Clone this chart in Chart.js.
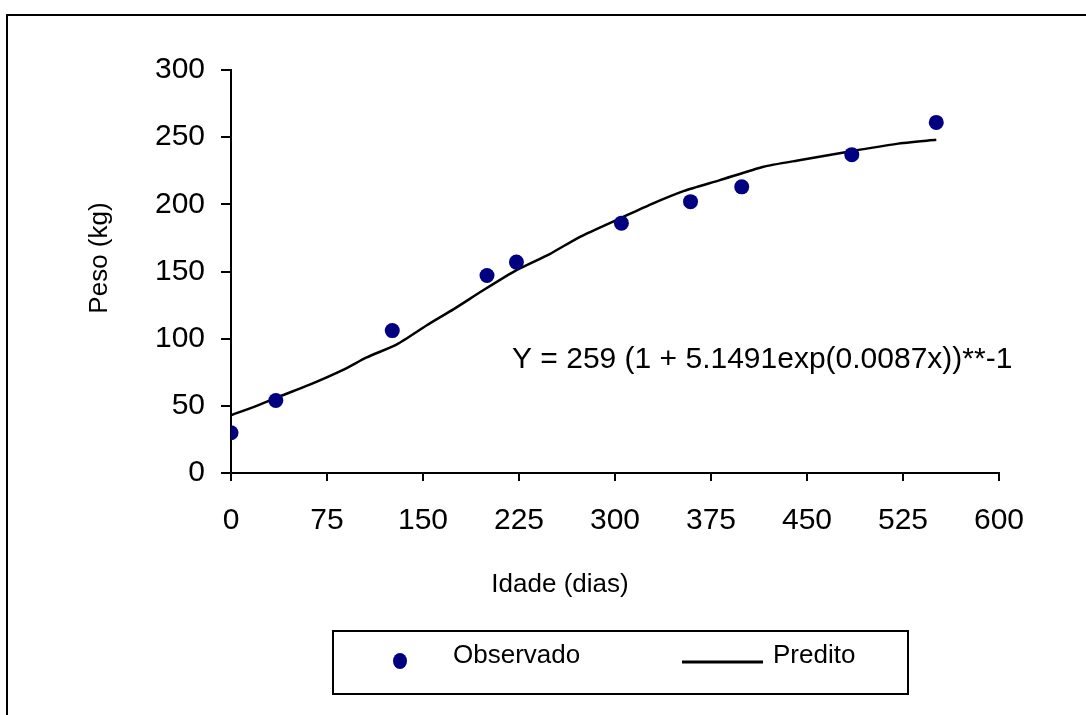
<!DOCTYPE html>
<html>
<head>
<meta charset="utf-8">
<title>Peso x Idade</title>
<script src="https://cdn.jsdelivr.net/npm/chart.js@4/dist/chart.umd.min.js"></script>
<style>
  html, body { margin: 0; padding: 0; background: #ffffff; }
  #wrap { position: relative; width: 1086px; height: 715px; }
</style>
</head>
<body>
<div id="wrap"><canvas id="pesoChart" width="1086" height="715"></canvas></div>
<script>
// Observed weights (kg) by age (days)
const obsAge = [0, 35, 126, 200, 223, 305, 359, 399, 485, 551];
const obsWeight = [30, 54, 106, 147, 157, 186, 202, 213, 237, 261];

// Predicted curve
const predAge = [0, 20, 38, 62, 88, 106, 130, 153, 174, 197, 223, 249, 273, 305, 328, 354, 382, 416, 445, 481, 520, 551];
const predWeight = [43, 50, 57, 66, 77, 86, 96, 110, 122, 136, 151, 163, 176, 190, 200, 210, 218, 228, 233, 239, 245, 248];

// Axis tick labels
const xTicks = [0, 75, 150, 225, 300, 375, 450, 525, 600];
const yTicks = [0, 50, 100, 150, 200, 250, 300];

const FONT = "'Liberation Sans', Arial, Helvetica, sans-serif";
const NAVY = '#000080';

// Extra text + frames drawn over the chart (titles, equation, boxed legend)
const decorPlugin = {
  id: 'decor',
  afterDraw(chart) {
    const ctx = chart.ctx;
    const obs = chart.data.datasets[0];
    const pred = chart.data.datasets[1];
    ctx.save();

    // outer frame
    ctx.strokeStyle = '#000';
    ctx.lineWidth = 2;
    ctx.strokeRect(7, 15, 1100, 720);

    ctx.fillStyle = '#000';

    // axis titles
    ctx.font = `26px ${FONT}`;
    ctx.textAlign = 'center';
    ctx.textBaseline = 'middle';
    ctx.fillText('Idade (dias)', 560, 585);
    ctx.save();
    ctx.translate(100, 258);
    ctx.rotate(-Math.PI / 2);
    ctx.fillText('Peso (kg)', 0, 0);
    ctx.restore();

    // fitted equation
    ctx.font = `30px ${FONT}`;
    ctx.textAlign = 'left';
    ctx.textBaseline = 'alphabetic';
    ctx.fillText('Y = 259 (1 + 5.1491exp(0.0087x))**-1', 512, 368);

    // legend box
    ctx.lineWidth = 2;
    ctx.strokeRect(333, 631, 575, 63);
    ctx.fillStyle = obs.backgroundColor;
    ctx.beginPath();
    ctx.ellipse(400, 661, 7, 8, 0, 0, Math.PI * 2);
    ctx.fill();
    ctx.strokeStyle = pred.borderColor;
    ctx.lineWidth = 3;
    ctx.beginPath();
    ctx.moveTo(682, 662);
    ctx.lineTo(763, 662);
    ctx.stroke();
    ctx.fillStyle = '#000';
    ctx.font = `26px ${FONT}`;
    ctx.textBaseline = 'alphabetic';
    ctx.fillText(obs.label, 453, 663);
    ctx.fillText(pred.label, 773, 663);

    ctx.restore();
  }
};

function axisStyle(tickLen, pad, list, fit) {
  return {
    type: 'linear',
    min: list[0],
    max: list[list.length - 1],
    afterBuildTicks: (s) => { s.ticks = list.map(v => ({ value: v })); },
    afterFit: fit,
    grid: { display: true, drawOnChartArea: false, drawTicks: true, tickLength: tickLen, color: '#000', lineWidth: 2 },
    border: { display: true, color: '#000', width: 2 },
    ticks: { color: '#000', padding: pad, font: { family: FONT, size: 30 } }
  };
}

new Chart(document.getElementById('pesoChart'), {
  type: 'scatter',
  data: {
    datasets: [
      {
        label: 'Observado',
        data: obsAge.map((a, i) => ({ x: a, y: obsWeight[i] })),
        backgroundColor: NAVY,
        borderColor: NAVY,
        borderWidth: 0,
        pointRadius: 7.5,
        pointHoverRadius: 7.5,
        showLine: false,
        order: 0
      },
      {
        label: 'Predito',
        data: predAge.map((a, i) => ({ x: a, y: predWeight[i] })),
        borderColor: '#000',
        backgroundColor: '#000',
        borderWidth: 2.5,
        pointRadius: 0,
        showLine: true,
        tension: 0.2,
        order: 1
      }
    ]
  },
  options: {
    responsive: false,
    devicePixelRatio: 1,
    animation: false,
    layout: { padding: { left: 0, top: 70, right: 87, bottom: 0 } },
    plugins: { legend: { display: false }, tooltip: { enabled: false } },
    scales: {
      x: axisStyle(8, 22, xTicks, (s) => { s.height = 242; }),
      y: axisStyle(10, 16, yTicks, (s) => { s.width = 231; })
    }
  },
  plugins: [decorPlugin]
});
</script>
</body>
</html>
